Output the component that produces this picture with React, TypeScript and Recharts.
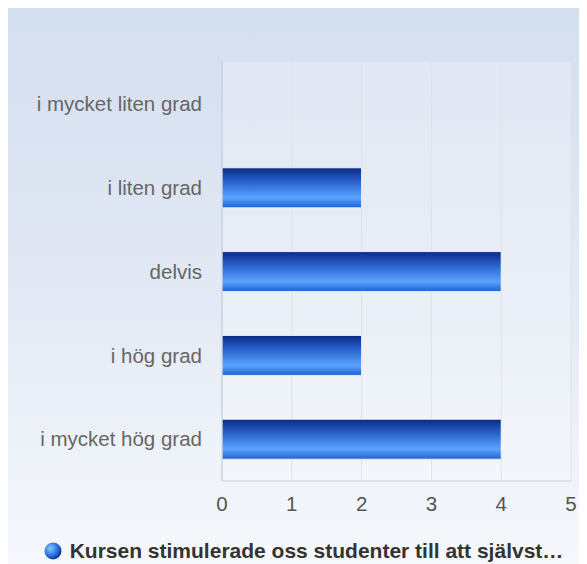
import React from 'react'
import {
  BarChart,
  Bar,
  XAxis,
  YAxis,
  CartesianGrid,
} from 'recharts'

const categories = [
  'i mycket liten grad',
  'i liten grad',
  'delvis',
  'i hög grad',
  'i mycket hög grad',
]
const counts = [0, 2, 4, 2, 4]
const xTicks = [0, 1, 2, 3, 4, 5]
const seriesName = 'Kursen stimulerade oss studenter till att självst…'

const data = categories.map((name, i) => ({ name, value: counts[i] }))

const FONT = '"Liberation Sans", Arial, Helvetica, sans-serif'

// legend sits under the plot, outside recharts' layout so it doesn't shrink the plot
const ChartLegend = () => (
  <div
    style={{
      position: 'absolute',
      left: 6,
      width: 579,
      top: 531,
      display: 'flex',
      alignItems: 'center',
      justifyContent: 'center',
      gap: 8,
      fontFamily: FONT,
      fontSize: 21,
      fontWeight: 700,
      color: '#333',
    }}
  >
    <svg width={18} height={18}>
      <defs>
        <radialGradient id="dot" cx="35%" cy="35%" r="70%">
          <stop offset="0%" stopColor="#8fc4ff" />
          <stop offset="55%" stopColor="#2f7ae8" />
          <stop offset="100%" stopColor="#0b2f8c" />
        </radialGradient>
      </defs>
      <circle cx={9} cy={9} r={8.5} fill="url(#dot)" />
    </svg>
    <span>{seriesName}</span>
  </div>
)

export default function App() {
  return (
    <div
      style={{
        position: 'relative',
        width: 579,
        height: 556,
        background: 'linear-gradient(to bottom, #d3deef 0%, #e4eaf5 55%, #f6f8fc 100%)',
        fontFamily: FONT,
      }}
    >
      <BarChart
        width={579}
        height={556}
        data={data}
        layout="vertical"
        margin={{ top: 54, right: 16, bottom: 53, left: 0 }}
        barSize={40}
      >
        <defs>
          <linearGradient id="barFill" x1="0" y1="0" x2="0" y2="1">
            <stop offset="0%" stopColor="#0a2a85" />
            <stop offset="35%" stopColor="#2a62cc" />
            <stop offset="75%" stopColor="#5ba3ff" />
            <stop offset="100%" stopColor="#1d5fd0" />
          </linearGradient>
        </defs>
        <CartesianGrid
          horizontal={false}
          stroke="#dfe2e8"
          fill="rgba(255,255,255,0.25)"
        />
        <XAxis
          type="number"
          domain={[0, 5]}
          ticks={xTicks}
          height={30}
          axisLine={{ stroke: '#c8ccd3' }}
          tickLine={false}
          tickSize={0}
          tickMargin={15}
          tick={{ fontSize: 20.5, fill: '#555', fontFamily: FONT }}
        />
        <XAxis
          xAxisId="top"
          type="number"
          orientation="top"
          domain={[0, 5]}
          ticks={xTicks}
          axisLine={{ stroke: '#c8ccd3' }}
          tick={false}
          tickLine={false}
          height={0}
        />
        <YAxis
          type="category"
          dataKey="name"
          width={214}
          axisLine={{ stroke: '#b9c8e0' }}
          tickLine={false}
          tickSize={0}
          tickMargin={20}
          tick={{ fontSize: 20.5, fill: '#666', fontFamily: FONT }}
        />
        <YAxis
          yAxisId="right"
          type="category"
          dataKey="name"
          orientation="right"
          width={0}
          axisLine={{ stroke: '#c8ccd3' }}
          tick={false}
          tickLine={false}
        />
        <Bar
          dataKey="value"
          name={seriesName}
          fill="url(#barFill)"
          stroke="#ffffff"
          strokeOpacity={0.85}
          strokeWidth={1}
          isAnimationActive={false}
        />
      </BarChart>
      <ChartLegend />
    </div>
  )
}
